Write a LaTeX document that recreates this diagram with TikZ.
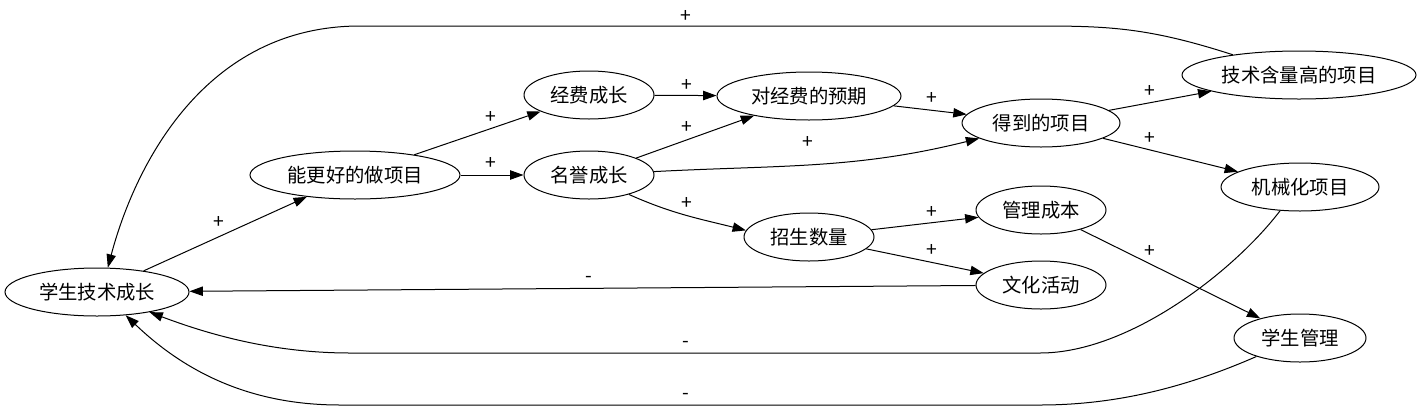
\documentclass[tikz,border=0pt]{standalone}
\usepackage{fontspec}
\setmainfont{Noto Sans CJK SC}
\usetikzlibrary{shapes.geometric,arrows.meta}
\begin{document}
\begin{tikzpicture}[x=0.75pt,y=-0.75pt,
		every node/.style={ text=black,
				font=\fontsize{14.5}{17}\selectfont },
		factor/.style={ ellipse, draw, line width=0.75pt,
				inner sep=0pt, minimum height=36pt },
		sign/.style={ inner sep=0pt },
		link/.style={ line width=0.75pt,
				-{Triangle[length=10pt,width=7pt]} } ]

	\useasboundingbox (0,0) rectangle (1424,411);

	% left part
	\node[factor, minimum width=138pt] (stu) at (97,292) {学生技术成长};
	\node[factor, minimum width=157.5pt] (better) at (355,175) {能更好的做项目};
	\node[factor, minimum width=97.5pt] (fund) at (589,95) {经费成长};
	\node[factor, minimum width=97.5pt] (fame) at (589,175) {名誉成长};
	\node[factor, minimum width=138pt] (expect) at (809,96) {对经费的预期};
	\node[factor, minimum width=97.5pt] (enrol) at (809,237) {招生数量};
	% right part
	\node[factor, minimum width=118.5pt] (got) at (1041,123) {得到的项目};
	\node[factor, minimum width=97.5pt] (cost) at (1041,210) {管理成本};
	\node[factor, minimum width=97.5pt] (culture) at (1041,285) {文化活动};
	\node[factor, minimum width=175.5pt] (tech) at (1299,75) {技术含量高的项目};
	\node[factor, minimum width=118.5pt] (mech) at (1300,187) {机械化项目};
	\node[factor, minimum width=99pt] (manage) at (1300,338) {学生管理};

	\draw[link] (stu) -- (better) node[sign] at (219,222) {+};
	\draw[link] (better) -- (fund) node[sign] at (491,117) {+};
	\draw[link] (better) -- (fame) node[sign] at (491,163) {+};
	\draw[link] (fund) -- (expect) node[sign] at (687,85) {+};
	\draw[link] (fame) -- (expect) node[sign] at (687,127) {+};
	\draw[link] (fame.3) to[out=3,in=194] (got.194)
		node[sign] at (808,142) {+};
	\draw[link] (fame.-26) to[out=-24,in=166] (enrol.174)
		node[sign] at (687,203) {+};
	\draw[link] (expect) -- (got) node[sign] at (932,98) {+};
	\draw[link] (got) -- (tech) node[sign] at (1150,91) {+};
	\draw[link] (got) -- (mech) node[sign] at (1150,138) {+};
	\draw[link] (enrol) -- (cost) node[sign] at (932,212) {+};
	\draw[link] (enrol) -- (culture) node[sign] at (932,250) {+};
	\draw[link] (cost) -- (manage) node[sign] at (1150,251) {+};

	% feedback loops
	\draw[link] (culture) -- (stu) node[sign] at (589,279) {-};
	\draw[link] (tech.163) .. controls (1150,28) and (1110,26) .. (1040,26)
		-- (360,26) .. controls (205,26) and (135,165) .. (stu.66)
		node[sign] at (686,16) {+};
	\draw[link] (mech.230) .. controls (1235,270) and (1130,353) .. (1040,353)
		-- (350,353) .. controls (270,353) and (205,333) .. (stu.-21)
		node[sign] at (686,344) {-};
	\draw[link] (manage.203) .. controls (1180,390) and (1110,405) .. (1040,405)
		-- (340,405) .. controls (250,405) and (185,372) .. (stu.-39)
		node[sign] at (686,396) {-};
\end{tikzpicture}
\end{document}
